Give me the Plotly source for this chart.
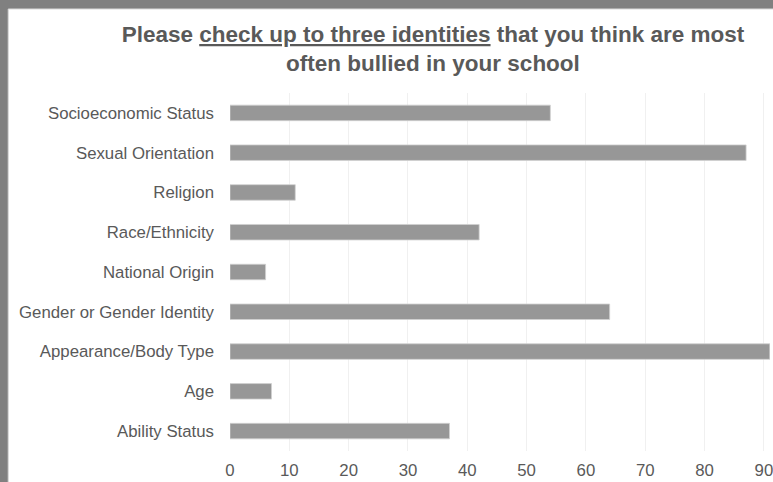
import plotly.graph_objects as go

categories = [
    "Socioeconomic Status",
    "Sexual Orientation",
    "Religion",
    "Race/Ethnicity",
    "National Origin",
    "Gender or Gender Identity",
    "Appearance/Body Type",
    "Age",
    "Ability Status",
]
counts = [54, 87, 11, 42, 6, 64, 91, 7, 37]
x_ticks = [0, 10, 20, 30, 40, 50, 60, 70, 80, 90]

W, H = 773, 482
ML, MR, MT, MB = 230, 0, 93, 31
plot_w = W - ML - MR
plot_h = H - MT - MB
px_per_unit = 5.965

fig = go.Figure(
    go.Bar(
        y=categories,
        x=counts,
        orientation="h",
        marker=dict(color="#979797", line=dict(color="#d0d0d0", width=0.8)),
        hoverinfo="x+y",
    )
)

# white chart area inside the gray frame
def px_x(p):
    return (p - ML) / plot_w

def px_y(p):
    return (H - MB - p) / plot_h

fig.add_shape(
    type="rect", xref="paper", yref="paper", layer="below",
    x0=px_x(7), x1=px_x(W + 5), y0=px_y(H + 5), y1=px_y(9),
    fillcolor="white", line=dict(color="#d9d9d9", width=1),
)

fig.update_layout(
    width=W, height=H,
    margin=dict(l=ML, r=MR, t=MT, b=MB),
    paper_bgcolor="#808080",
    plot_bgcolor="white",
    bargap=0.61,
    showlegend=False,
    font=dict(family="Liberation Sans, Arial, sans-serif", color="#595959", size=16.8),
    title=dict(
        text="<b>Please <u>check up to three identities</u> that you think are most<br>often bullied in your school</b>",
        x=433 / W, xanchor="center", xref="container",
        y=1 - 42 / H, yanchor="top", yref="container",
        font=dict(size=22.5, color="#595959", family="Liberation Sans, Arial, sans-serif"),
    ),
    xaxis=dict(
        range=[0, plot_w / px_per_unit],
        tickvals=x_ticks,
        showgrid=True, gridcolor="#f0f0f0", gridwidth=1,
        zeroline=False, showline=False, ticks="",
        ticklabelstandoff=7,
        ticklabeloverflow="allow",
        tickfont=dict(size=16.8, color="#595959"),
        fixedrange=True,
    ),
    yaxis=dict(
        autorange="reversed",
        showgrid=False, zeroline=False, showline=False, ticks="",
        ticklabelstandoff=15,
        tickfont=dict(size=16.8, color="#595959"),
        fixedrange=True,
    ),
)

fig.write_html(
    "out.html",
    config={"displayModeBar": False},
    post_script="document.body.style.margin='0';",
)
